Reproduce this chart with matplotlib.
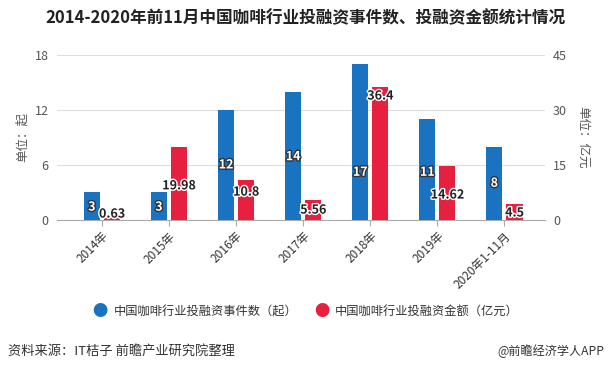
import matplotlib.pyplot as plt
import matplotlib.patheffects as pe
import numpy as np

plt.rcParams['font.family'] = ['Noto Sans CJK SC', 'DejaVu Sans']

years = ['2014年', '2015年', '2016年', '2017年', '2018年', '2019年', '2020年1-11月']
events = [3, 3, 12, 14, 17, 11, 8]
amounts = [0.63, 19.98, 10.8, 5.56, 36.4, 14.62, 4.5]

# where the value labels sit (axis units)
event_label_y = [1.4, 1.4, 6.0, 6.9, 5.2, 5.2, 4.0]
amount_label_y = [1.6, 9.3, 7.6, 2.7, 33.8, 6.8, 1.9]

blue = '#1a73c0'
red = '#e8203f'

fig = plt.figure(figsize=(6.1, 3.7), dpi=100)
ax = fig.add_axes([0.0934, 0.4054, 0.7996, 0.446])
ax2 = ax.twinx()

x = np.arange(len(years))
w = 0.24
ax.bar(x - 0.15, events, w, color=blue, zorder=3)
ax2.bar(x + 0.15, amounts, w, color=red, zorder=3)

ax.set_xlim(-0.67, 6.6)
ax.set_ylim(0, 18)
ax2.set_ylim(0, 45)
ax.set_yticks([0, 6, 12, 18])
ax2.set_yticks([0, 15, 30, 45])
ax.grid(axis='y', color='#dddddd', linewidth=0.8, zorder=0)

for a in (ax, ax2):
    for s in a.spines.values():
        s.set_visible(False)
    a.tick_params(axis='y', length=0, labelsize=9, colors='#555555', pad=6)
ax.spines['bottom'].set_visible(True)
ax.spines['bottom'].set_color('#aaaaaa')

ax.set_xticks(x)
ax.set_xticklabels(years, rotation=45, ha='right', rotation_mode='anchor', fontsize=8.5, color='#333333')
ax.tick_params(axis='x', length=4, color='#aaaaaa', pad=3)

ax.set_ylabel('单位：起', fontsize=9, color='#555555', labelpad=4)
ax2.set_ylabel('单位：亿元', fontsize=9, color='#555555', rotation=-90, labelpad=16)

outline = [pe.withStroke(linewidth=2, foreground='#333333')]
white_outline = [pe.withStroke(linewidth=2, foreground='white')]
for i in range(len(years)):
    ax.text(x[i] - 0.15, event_label_y[i], str(events[i]), ha='center', va='center',
            fontsize=9, fontweight='bold', color='white', path_effects=outline, zorder=5)
    ax2.text(x[i] + 0.15, amount_label_y[i], f'{amounts[i]:g}', ha='center', va='center',
             fontsize=9, fontweight='bold', color='#222222', path_effects=white_outline, zorder=5)

fig.text(0.5, 0.952, '2014-2020年前11月中国咖啡行业投融资事件数、投融资金额统计情况',
         ha='center', va='center', fontsize=12, fontweight='bold', color='#222222')

# legend
fig.text(0.164, 0.157, '●', color=blue, fontsize=11, ha='center', va='center')
fig.text(0.186, 0.157, '中国咖啡行业投融资事件数（起）', fontsize=8.8, color='#333333', va='center')
fig.text(0.527, 0.157, '●', color=red, fontsize=11, ha='center', va='center')
fig.text(0.549, 0.157, '中国咖啡行业投融资金额（亿元）', fontsize=8.8, color='#333333', va='center')

fig.text(0.013, 0.051, '资料来源：IT桔子 前瞻产业研究院整理', fontsize=9.5, color='#333333', va='center')
fig.text(0.99, 0.051, '@前瞻经济学人APP', fontsize=8.7, color='#333333', va='center', ha='right')

fig.savefig('out.png', dpi=100)
